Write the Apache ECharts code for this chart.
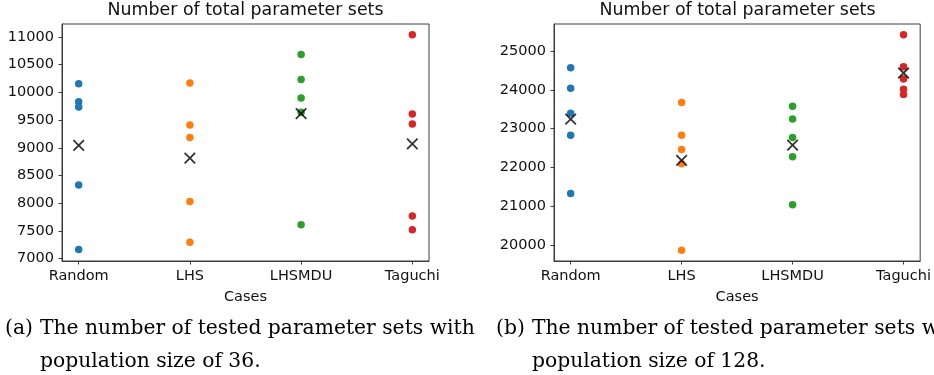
<!DOCTYPE html>
<html>
<head>
<meta charset="utf-8">
<script src="https://cdn.jsdelivr.net/npm/echarts@6/dist/echarts.min.js"></script>
<style>
  html, body { margin: 0; padding: 0; background: #fff; }
  #chart { width: 934px; height: 375px; }
</style>
</head>
<body>
<div id="chart"></div>
<script>
// Cases shown on the horizontal axis of both panels
const categories = ['Random', 'LHS', 'LHSMDU', 'Taguchi'];
const caseColors = ['#1f77b4', '#ff7f0e', '#2ca02c', '#d62728'];

// Population size 36: total parameter sets per run
const randomPop36 = [10156, 9832, 9737, 8329, 7162];
const lhsPop36 = [10168, 9413, 9186, 8030, 7293];
const lhsmduPop36 = [10683, 10234, 9898, 9640, 7611];
const taguchiPop36 = [11042, 9611, 9431, 7766, 7521];
const meanPop36 = [9042, 8814, 9617, 9072];
const yTicksPop36 = [7000, 7500, 8000, 8500, 9000, 9500, 10000, 10500, 11000];

// Population size 128: total parameter sets per run
const randomPop128 = [24571, 24039, 23396, 22830, 21329];
const lhsPop128 = [23671, 22830, 22461, 22093, 19863];
const lhsmduPop128 = [23576, 23250, 22770, 22273, 21038];
const taguchiPop128 = [25420, 24597, 24280, 24014, 23877];
const meanPop128 = [23242, 22178, 22573, 24434];
const yTicksPop128 = [20000, 21000, 22000, 23000, 24000, 25000];

const titleText = 'Number of total parameter sets';
const xName = 'Cases';

const sans = 'DejaVu Sans';
const ink = '#111';
const frame = '#3c3c3c';

const panels = [
  { left: 62, width: 367, yMin: 6955, yMax: 11235, ticks: yTicksPop36,
    groups: [randomPop36, lhsPop36, lhsmduPop36, taguchiPop36], means: meanPop36 },
  { left: 554, width: 367, yMin: 19585, yMax: 25698, ticks: yTicksPop128,
    groups: [randomPop128, lhsPop128, lhsmduPop128, taguchiPop128], means: meanPop128 }
];

const grid = [], xAxis = [], yAxis = [], series = [], title = [];
const catIdx = categories.map((c, i) => i);
const axisLine = { show: true, onZero: false, lineStyle: { color: frame, width: 1 } };

panels.forEach((p, k) => {
  grid.push({
    left: p.left, top: 24, width: p.width, height: 237,
    show: true, borderColor: frame, borderWidth: 1, backgroundColor: 'transparent'
  });
  title.push({
    text: titleText,
    left: p.left + p.width / 2, top: 2, textAlign: 'center', padding: 0,
    textStyle: { fontFamily: sans, fontSize: 17.4, fontWeight: 'normal', color: ink }
  });
  xAxis.push({
    gridIndex: k, type: 'value', min: -0.15, max: 3.15,
    splitLine: { show: false },
    axisLine,
    axisTick: { show: true, length: 3.5, customValues: catIdx, lineStyle: { color: frame, width: 1 } },
    axisLabel: {
      customValues: catIdx, formatter: v => categories[Math.round(v)],
      fontFamily: sans, fontSize: 14.5, color: ink, margin: 8
    },
    name: xName, nameLocation: 'middle', nameGap: 29,
    nameTextStyle: { fontFamily: sans, fontSize: 14.5, color: ink }
  });
  yAxis.push({
    gridIndex: k, type: 'value', min: p.yMin, max: p.yMax,
    splitLine: { show: false },
    axisLine,
    axisTick: { show: true, length: 3.5, customValues: p.ticks, lineStyle: { color: frame, width: 1 } },
    axisLabel: {
      customValues: p.ticks, formatter: v => String(v),
      fontFamily: sans, fontSize: 14.5, color: ink, margin: 8
    }
  });
  p.groups.forEach((vals, i) => {
    series.push({
      type: 'scatter', xAxisIndex: k, yAxisIndex: k,
      data: vals.map(v => [i, v]),
      symbol: 'circle', symbolSize: 7.5,
      itemStyle: { color: caseColors[i], opacity: 1 },
      silent: true, z: 2
    });
  });
  series.push({
    type: 'scatter', xAxisIndex: k, yAxisIndex: k,
    data: p.means.map((v, i) => [i, v]),
    symbol: 'path://M0,0L10,10M10,0L0,10', symbolSize: 10.5,
    itemStyle: { color: 'none', borderColor: '#000', borderWidth: 1.8 },
    silent: true, z: 3
  });
});

// Sub-figure captions
const serif = 'DejaVu Serif';
const capSize = 20.3;
function capText(x, y, text) {
  return {
    type: 'text', left: x, top: y,
    style: { text, fontFamily: serif, fontSize: capSize, fill: '#000', textVerticalAlign: 'top' }
  };
}
const graphic = [
  capText(5, 319, '(a)'),
  capText(40, 319, 'The number of tested parameter sets with'),
  capText(40, 352, 'population size of 36.'),
  capText(496, 319, '(b)'),
  capText(532, 319, 'The number of tested parameter sets with'),
  capText(532, 352, 'population size of 128.')
];

const chart = echarts.init(document.getElementById('chart'), null, { renderer: 'canvas' });
chart.setOption({
  animation: false,
  backgroundColor: '#fff',
  title, grid, xAxis, yAxis, series, graphic
});
</script>
</body>
</html>
